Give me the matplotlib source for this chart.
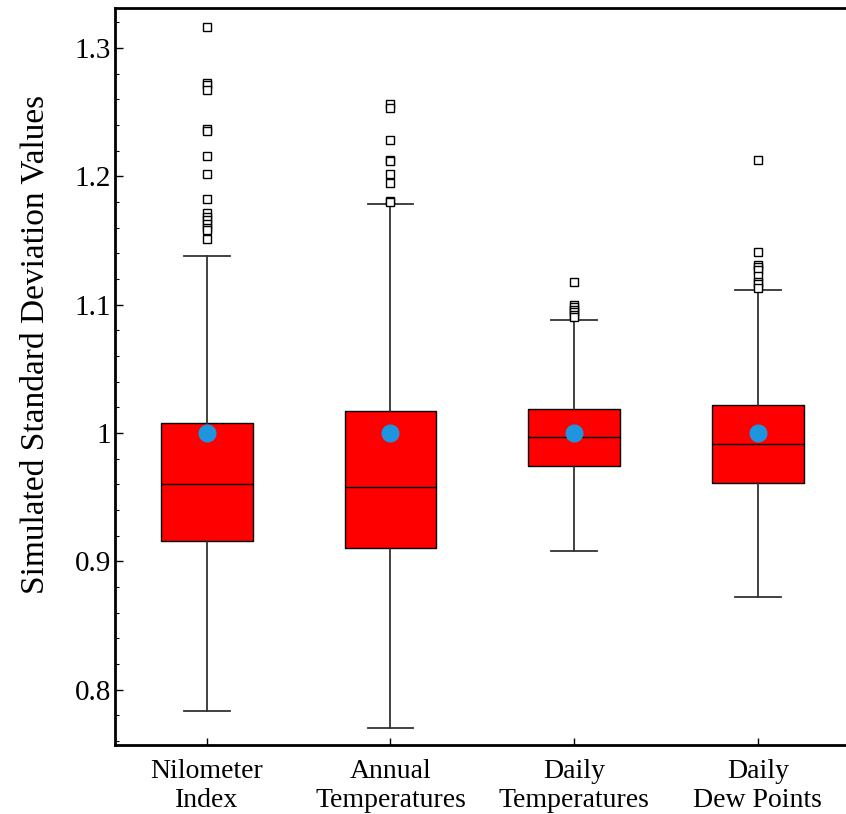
import numpy as np
import matplotlib
matplotlib.use("Agg")
import matplotlib.pyplot as plt
from matplotlib.ticker import MultipleLocator

plt.rcParams["font.family"] = ["Liberation Serif", "DejaVu Serif"]

# box summaries for each simulated series
labels = ["Nilometer\nIndex", "Annual\nTemperatures", "Daily\nTemperatures", "Daily\nDew Points"]
q1 = [0.916, 0.910, 0.974, 0.961]
med = [0.960, 0.958, 0.997, 0.991]
q3 = [1.008, 1.017, 1.019, 1.022]
whis_lo = [0.783, 0.770, 0.908, 0.872]
whis_hi = [1.138, 1.178, 1.088, 1.111]
means = [1.0, 1.0, 1.0, 1.0]

fliers_nilometer = [1.316, 1.273, 1.271, 1.267, 1.237, 1.235, 1.216, 1.202, 1.182,
                    1.171, 1.168, 1.166, 1.163, 1.160, 1.158, 1.151]
fliers_annual = [1.256, 1.253, 1.228, 1.213, 1.212, 1.202, 1.195, 1.181, 1.180]
fliers_daily_temp = [1.118, 1.100, 1.098, 1.096, 1.094, 1.092, 1.090]
fliers_dew = [1.213, 1.141, 1.131, 1.129, 1.127, 1.122, 1.118, 1.116, 1.113]
fliers = [fliers_nilometer, fliers_annual, fliers_daily_temp, fliers_dew]

stats = []
for i in range(len(labels)):
    stats.append(dict(label=labels[i], q1=q1[i], med=med[i], q3=q3[i],
                      whislo=whis_lo[i], whishi=whis_hi[i],
                      mean=means[i], fliers=np.array(fliers[i])))

fig = plt.figure(figsize=(8.46, 8.14), dpi=100)
ax = fig.add_axes([0.136, 0.085, 0.866, 0.905])

ax.bxp(stats, positions=[1, 2, 3, 4], widths=0.5, patch_artist=True,
       showmeans=True, showcaps=True, showfliers=True,
       boxprops=dict(facecolor="#ff0000", edgecolor="black", linewidth=1.0),
       medianprops=dict(color="black", linewidth=1.0),
       whiskerprops=dict(color="#333333", linewidth=1.3),
       capprops=dict(color="#333333", linewidth=1.3),
       capwidths=0.25,
       meanprops=dict(marker="o", markerfacecolor="#1e96df", markeredgecolor="#1e96df",
                      markersize=12),
       flierprops=dict(marker="s", markerfacecolor="white", markeredgecolor="black",
                       markersize=6, markeredgewidth=1.0))

ax.set_xlim(0.5, 4.49)
ax.set_ylim(0.757, 1.331)
ax.set_xticks([1, 2, 3, 4])
ax.set_xticklabels(labels, fontsize=20, linespacing=1.25)
ax.yaxis.set_minor_locator(MultipleLocator(0.02))
ax.set_yticks([0.8, 0.9, 1.0, 1.1, 1.2, 1.3])
ax.set_yticklabels(["0.8", "0.9", "1", "1.1", "1.2", "1.3"], fontsize=21)
ax.set_ylabel("Simulated Standard Deviation Values", fontsize=24)
ax.yaxis.set_label_coords(-0.088, 0.543)

ax.tick_params(axis="x", which="major", direction="in", length=5, width=1, pad=10)
ax.tick_params(axis="y", which="major", direction="in", length=6, width=1, pad=3)
ax.tick_params(axis="y", which="minor", direction="in", length=3, width=0.8)
ax.spines["right"].set_visible(False)
for side in ["left", "bottom", "top"]:
    ax.spines[side].set_linewidth(2)

fig.savefig("out.png", dpi=100)
